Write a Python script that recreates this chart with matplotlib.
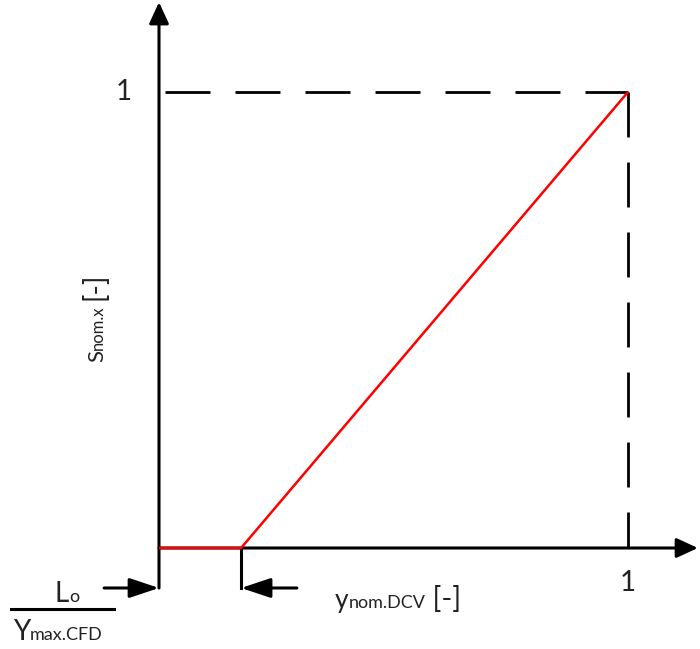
import matplotlib
matplotlib.use("Agg")
import matplotlib.pyplot as plt

# normalised characteristic: nothing below L0/Ymax, then linear up to (1, 1)
lo_ratio = 0.175
x_vals = [0.0, lo_ratio, 1.0]
y_vals = [0.0, 0.0, 1.0]
tick_x = [1.0]
tick_y = [1.0]
tick_labels = ["1"]

FONT = "Lato"
BIG = 19
SMALL = 13

plt.rcParams["font.family"] = [FONT, "DejaVu Sans"]
plt.rcParams["font.weight"] = "normal"

fig = plt.figure(figsize=(7.0, 6.49), dpi=100)
ax = fig.add_axes([0, 0, 1, 1])
ax.set_xlim(-0.339, 1.1535)
ax.set_ylim(-0.2215, 1.2018)
ax.axis("off")

below = -0.0877  # level of the L0 marker arrows


def arrow(x0, y0, x1, y1, hl=0.65, hw=0.3):
    ax.annotate("", xy=(x1, y1), xytext=(x0, y0),
                arrowprops=dict(arrowstyle=f"-|>,head_length={hl},head_width={hw}",
                                lw=2.2, color="black", mutation_scale=20,
                                shrinkA=0, shrinkB=0))


# axes with arrow heads
arrow(0, below, 0, 1.197)
arrow(0, 0, 1.149, 0)

# dashed guide lines to the (1, 1) corner
dash = (0, (16.2, 9))
ax.plot([0.013, x_vals[-1]], [y_vals[-1], y_vals[-1]], color="black", lw=2, ls=dash)
ax.plot([x_vals[-1], x_vals[-1]], [y_vals[-1], 0], color="black", lw=2, ls=dash)

# characteristic line
ax.plot(x_vals, y_vals, color="#ff0000", lw=1.8, solid_capstyle="butt", zorder=5)

# L0 marker: vertical tick plus two inward arrows
ax.plot([lo_ratio, lo_ratio], [0, below], color="black", lw=2.2)
arrow(-0.117, below, 0, below, hl=0.9, hw=0.3)
arrow(0.294, below, lo_ratio, below, hl=0.9, hw=0.3)

# tick labels
for xv, lab in zip(tick_x, tick_labels):
    ax.text(xv, -0.077, lab, ha="center", va="center", fontsize=BIG + 1,
            color="#222222")
for yv, lab in zip(tick_y, tick_labels):
    ax.text(-0.075, yv, lab, ha="center", va="center", fontsize=BIG + 1,
            color="#222222")


def hlabel(x, y, parts):
    # parts: list of (text, size), all on one baseline
    prev = ax.text(x, y, parts[0][0], fontsize=parts[0][1], ha="left",
                   va="baseline", color="#222222")
    for s, size in parts[1:]:
        prev = ax.annotate(s, xy=(1, y), xycoords=(prev, "data"), color="#222222",
                           fontsize=size, ha="left", va="baseline")
    return prev


def vlabel(x, y, parts):
    # parts: list of (text, size, gap in points before it)
    prev = ax.text(x, y, parts[0][0], fontsize=parts[0][1], rotation=90,
                   rotation_mode="anchor", ha="left", va="baseline", color="#222222")
    for s, size, gap in parts[1:]:
        prev = ax.annotate(s, xy=(x, 1), xycoords=("data", prev),
                           xytext=(0, gap), textcoords="offset points",
                           fontsize=size, rotation=90, rotation_mode="anchor",
                           ha="left", va="baseline", color="#222222")
    return prev


# axis titles
hlabel(0.375, -0.1316, [("y", BIG), ("nom.DCV", SMALL), (" [-]", BIG + 2)])
vlabel(-0.119, 0.408, [("S", BIG - 3), ("nom.x", SMALL - 1, 0), ("[-]", BIG + 1, 4)])

# L0 / Ymax.CFD fraction
hlabel(-0.222, -0.118, [("L", BIG + 1), ("o", SMALL)])
ax.plot([-0.316, -0.096], [-0.134, -0.134], color="black", lw=2.2)
hlabel(-0.312, -0.2018, [("Y", BIG + 1), ("max.CFD", SMALL)])

fig.savefig("out.png", dpi=100)
